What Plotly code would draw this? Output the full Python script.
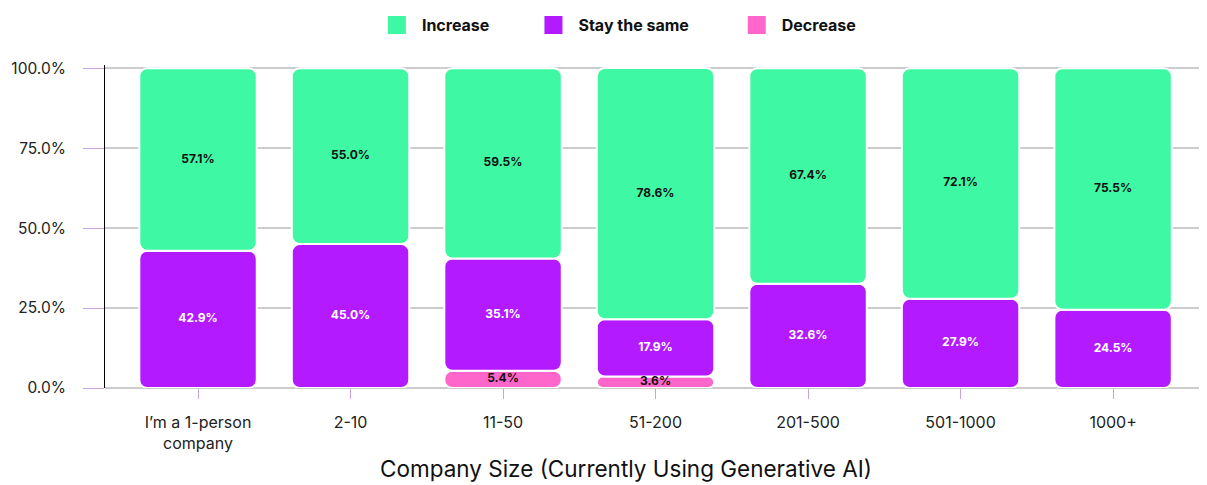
import plotly.graph_objects as go

categories = ["I’m a 1-person<br>company", "2-10", "11-50", "51-200", "201-500", "501-1000", "1000+"]
decrease = [0, 0, 5.4, 3.6, 0, 0, 0]
stay_same = [42.9, 45.0, 35.1, 17.9, 32.6, 27.9, 24.5]
increase = [57.1, 55.0, 59.5, 78.6, 67.4, 72.1, 75.5]
y_tickvals = [0, 25, 50, 75, 100]
y_ticktext = ["0.0%", "25.0%", "50.0%", "75.0%", "100.0%"]
x_title = "Company Size (Currently Using Generative AI)"

series = [
    ("Increase", increase, "#3FF8A3", "#111111"),
    ("Stay the same", stay_same, "#B31AFF", "#FFFFFF"),
    ("Decrease", decrease, "#FF66CC", "#111111"),
]
stack_order = [2, 1, 0]  # bottom to top

FONT = "Inter, Noto Sans, sans-serif"
BAR_W = 0.77
fig = go.Figure()

bottoms = {}
running = [0.0] * len(categories)
for idx in stack_order:
    vals = series[idx][1]
    bottoms[idx] = list(running)
    running = [r + v for r, v in zip(running, vals)]

text_traces = []
for idx in stack_order:
    name, vals, color, tcolor = series[idx]
    xs, bases, sizes, mids, labels = [], [], [], [], []
    for c, b, v in zip(categories, bottoms[idx], vals):
        if v > 0:
            xs.append(c)
            bases.append(b)
            sizes.append(v)
            mids.append(b + v / 2)
            labels.append(f"{v:.1f}%")
    fig.add_trace(go.Bar(x=xs, base=bases, y=sizes, width=BAR_W,
                         marker=dict(color=color, cornerradius=8,
                                     line=dict(color="white", width=2)),
                         showlegend=False, hoverinfo="skip"))
    text_traces.append(go.Scatter(x=xs, y=mids, mode="text", text=labels,
                                  textfont=dict(family=FONT, size=12, color=tcolor, weight=700),
                                  showlegend=False, hoverinfo="skip", cliponaxis=False))

for t in text_traces:
    fig.add_trace(t)

# legend entries
pads = ["\u00a0" * 9, "\u00a0" * 10, ""]
for i, (name, vals, color, tcolor) in enumerate(series):
    fig.add_trace(go.Scatter(x=[None], y=[None], mode="markers",
                             name=name + pads[i],
                             marker=dict(symbol="square", size=16, color=color,
                                         line=dict(color=color, width=2))))

# page body has an 8px margin: figure is shifted by 8px right/down
fig.update_layout(
    width=1199, height=477,
    barmode="overlay",
    plot_bgcolor="white", paper_bgcolor="white",
    margin=dict(l=97, r=7, t=57, b=97),
    font=dict(family=FONT, size=15, color="#222222"),
    legend=dict(orientation="h", xref="container", yref="container",
                x=0.3035, xanchor="left", y=1.0, yanchor="top",
                itemwidth=40,
                font=dict(family=FONT, size=16, color="#111111", weight=700),
                traceorder="normal", itemclick=False),
    xaxis=dict(range=[-0.61, 6.57], categoryorder="array", categoryarray=categories,
               automargin=False,
               showgrid=False, showline=False, zeroline=False,
               ticks="outside", ticklen=10, tickcolor="#C9A3DD", tickwidth=1,
               ticklabelstandoff=10,
               tickfont=dict(family=FONT, size=16, color="#222222")),
    yaxis=dict(range=[0, 101], tickvals=y_tickvals, ticktext=y_ticktext,
               automargin=False,
               showgrid=True, gridcolor="#CCCCCC", gridwidth=1.5,
               zeroline=True, zerolinecolor="#CCCCCC", zerolinewidth=1.5,
               showline=True, linecolor="#000000", linewidth=1,
               ticks="outside", ticklen=21, tickcolor="#C9A3DD", tickwidth=1,
               ticklabelstandoff=14,
               tickfont=dict(family=FONT, size=15.5, color="#222222")),
    annotations=[dict(text=x_title, xref="paper", yref="paper",
                      x=(618 - 97) / (1199 - 97 - 7), xanchor="center",
                      y=-(460 - (477 - 97)) / (477 - 57 - 97), yanchor="middle",
                      showarrow=False,
                      font=dict(family=FONT, size=22.5, color="#111111"))],
)

fig.write_html("out.html")
